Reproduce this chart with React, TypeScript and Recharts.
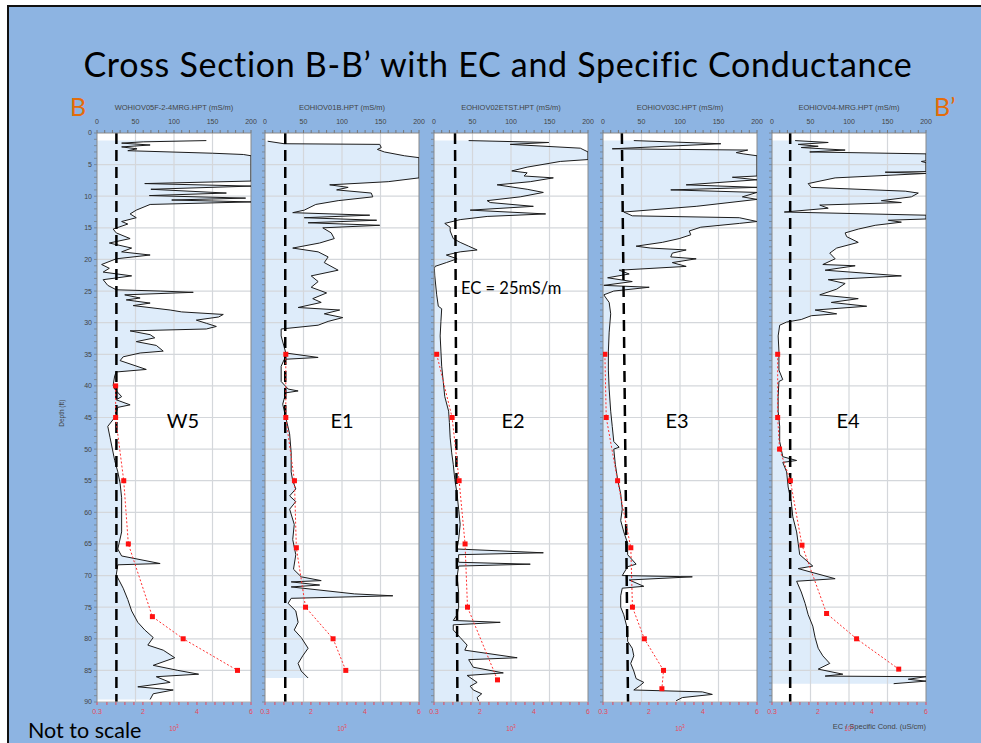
import React from 'react';
import { ComposedChart, Area, Line, XAxis, YAxis, ReferenceLine } from 'recharts';

// EC logs: [depth ft, EC mS/m] (values past 200 are pinned at the axis end)
const W5_EC = [
  [1.2, 142], [1.4, 60], [1.6, 32], [1.9, 69], [2.2, 32], [2.5, 52], [2.8, 40], [3.2, 150], [3.4, 190], [3.6, 200],
  [7.6, 200], [8.0, 62], [8.4, 200], [8.9, 70], [9.5, 168], [9.9, 68], [10.3, 193], [10.6, 97], [10.9, 200], [11.3, 69],
  [12.2, 51], [12.8, 43], [13.4, 51], [14.0, 32], [14.4, 40], [15.2, 21], [15.8, 25], [16.7, 43], [17.4, 16], [18.2, 45],
  [18.8, 32], [19.3, 69], [19.9, 25], [20.8, 6], [21.4, 16], [22.0, 8], [22.6, 45], [23.2, 8], [24.1, 14], [24.8, 25],
  [25.0, 82], [25.2, 125], [25.6, 36], [26.1, 56], [26.4, 38], [26.9, 69], [27.3, 47], [28.0, 95], [28.3, 110], [28.7, 164],
  [29.1, 158], [29.6, 129], [30.1, 142], [30.6, 155], [31.0, 142], [31.3, 43], [31.9, 69], [32.4, 75], [33.0, 51], [33.6, 77],
  [34.5, 86], [34.8, 56], [35.4, 34], [36.0, 30], [37.4, 64], [37.8, 25], [38.4, 23], [39.9, 21], [40.5, 23], [41.7, 32],
  [42.2, 25], [43.0, 43], [43.4, 27], [45.0, 23], [46.4, 14], [48.2, 17], [50.0, 20], [51.8, 23], [53.6, 27], [55.4, 30],
  [57.7, 32], [60.1, 32], [63.1, 32], [65.8, 27], [66.9, 32], [68.1, 82], [68.3, 27], [69.9, 25], [72.0, 34], [73.8, 40],
  [75.6, 45], [77.4, 53], [78.6, 62], [79.8, 73], [81.0, 66], [81.8, 86], [83.0, 101], [84.2, 73], [85.0, 105], [85.6, 132],
  [86.0, 77], [86.9, 95], [87.6, 53], [88.1, 99], [88.7, 73], [89.6, 69],
];
const E1_EC = [
  [1.3, 3.5], [1.7, 25], [1.8, 149], [2.3, 151], [2.6, 146], [3.0, 155], [3.6, 181], [3.9, 200], [7.1, 200], [7.7, 160],
  [8.2, 84], [8.6, 108], [9.0, 93], [9.5, 138], [10.1, 140], [10.7, 95], [11.3, 66], [12.2, 51], [12.6, 36], [13.0, 136],
  [13.4, 51], [13.8, 145], [14.2, 56], [14.6, 149], [15.0, 75], [15.8, 86], [16.7, 90], [17.4, 71], [18.2, 36], [18.8, 69],
  [19.6, 82], [20.5, 77], [21.7, 95], [22.6, 60], [23.5, 69], [24.4, 60], [25.3, 80], [26.2, 62], [26.8, 73], [27.6, 43],
  [28.0, 97], [28.6, 77], [29.2, 101], [29.8, 82], [30.4, 69], [31.0, 21], [32.1, 21], [33.9, 25], [34.8, 27], [35.5, 69],
  [35.8, 25], [36.9, 21], [39.3, 21], [40.5, 30], [40.8, 43], [41.1, 27], [42.9, 23], [45.0, 27], [47.6, 32], [50.6, 34],
  [53.6, 34], [55.0, 36], [56.3, 40], [57.4, 32], [58.3, 40], [59.5, 32], [61.9, 38], [64.3, 36], [66.7, 40], [69.0, 37],
  [70.2, 47], [70.8, 73], [71.0, 34], [71.5, 71], [71.8, 34], [72.9, 116], [73.2, 166], [73.6, 34], [74.4, 30], [75.6, 40],
  [77.4, 43], [78.6, 38], [79.8, 47], [81.5, 56], [82.7, 49], [83.9, 43], [85.1, 47], [86.2, 56],
];
const E2_EC = [
  [1.2, 45], [1.5, 149], [1.8, 99], [2.4, 190], [3.0, 200], [4.2, 200], [4.5, 164], [5.4, 121], [6.0, 101], [6.3, 121],
  [6.8, 117], [7.1, 155], [7.7, 125], [8.2, 82], [8.9, 121], [9.4, 142], [10.1, 112], [10.7, 69], [11.0, 73], [11.6, 129],
  [12.2, 47], [12.8, 145], [13.2, 69], [13.7, 34], [14.3, 14], [14.9, 21], [15.5, 21], [16.7, 25], [17.3, 34], [17.9, 45],
  [18.5, 56], [18.8, 34], [19.3, 16], [19.9, 30], [20.5, 16], [21.1, 1.3], [21.4, 0.5], [22.6, 1], [25.6, 3.5], [27.4, 5.6],
  [27.8, 10], [29.8, 9], [32.1, 8], [34.5, 9], [36.9, 10], [39.3, 12], [41.7, 14], [44.0, 19], [45.8, 20], [48.2, 21],
  [50.6, 23], [52.4, 25], [54.8, 27], [57.1, 30], [59.5, 32], [61.9, 34], [64.3, 32], [65.8, 30], [66.4, 142], [66.7, 32],
  [67.9, 32], [68.2, 125], [68.5, 32], [70.2, 30], [72.6, 32], [75.0, 32], [76.2, 30], [77.1, 25], [77.4, 86], [77.8, 25],
  [78.6, 25], [79.8, 34], [81.0, 43], [81.8, 40], [83.0, 108], [83.3, 45], [84.5, 51], [85.4, 90], [85.8, 43], [86.9, 56],
  [87.5, 47], [88.1, 51], [88.7, 62], [89.3, 56], [89.9, 58],
];
const E3_EC = [
  [1.2, 40], [1.7, 153], [2.5, 12], [2.7, 188], [3.1, 173], [3.3, 182], [3.6, 200], [6.8, 200], [7.0, 168], [7.4, 200],
  [8.2, 108], [8.6, 200], [9.0, 88], [9.4, 200], [10.1, 181], [10.5, 200], [11.6, 121], [12.5, 27], [13.1, 38], [13.4, 177],
  [14.0, 200], [14.3, 177], [14.9, 127], [15.5, 112], [16.1, 114], [16.7, 99], [17.3, 77], [17.9, 43], [18.2, 62], [18.5, 108],
  [19.0, 90], [19.6, 88], [19.9, 121], [20.5, 90], [21.1, 108], [21.7, 21], [22.3, 34], [22.9, 6], [23.5, 38], [24.1, 1],
  [24.4, 60], [25.0, 14], [25.6, 1], [26.8, 8], [28.6, 10], [31.5, 8], [34.5, 7], [37.5, 7], [40.5, 8], [44.0, 10],
  [46.4, 12], [48.8, 14], [49.7, 21], [50.0, 14], [52.4, 16], [54.8, 19], [57.1, 23], [59.5, 25], [61.3, 23], [63.1, 27],
  [64.9, 32], [66.7, 32], [68.2, 43], [68.6, 32], [70.0, 25], [70.2, 116], [70.7, 34], [71.7, 53], [72.0, 25], [73.2, 23],
  [75.0, 23], [76.2, 27], [78.6, 32], [80.4, 32], [81.5, 38], [82.7, 40], [83.9, 36], [85.1, 40], [86.3, 43], [86.9, 53],
  [87.5, 47], [88.1, 40], [88.4, 129], [88.8, 142], [89.3, 103], [89.8, 95],
];
const E4_EC = [
  [1.2, 30], [1.5, 73], [1.8, 34], [2.1, 60], [2.3, 38], [2.7, 95], [3.0, 49], [3.3, 200], [4.4, 200], [4.5, 194],
  [4.7, 200], [6.1, 200], [6.2, 147], [6.4, 200], [7.1, 82], [8.0, 47], [8.6, 51], [9.2, 173], [9.5, 190], [10.1, 181],
  [10.7, 142], [11.0, 168], [11.4, 62], [11.9, 73], [12.5, 16], [13.0, 200], [13.6, 200], [13.8, 151], [14.1, 168], [14.6, 134],
  [15.2, 112], [15.8, 95], [16.4, 97], [17.3, 112], [18.2, 84], [19.0, 75], [19.9, 82], [20.8, 66], [21.0, 108], [21.7, 69],
  [22.6, 168], [23.2, 73], [23.8, 95], [24.7, 84], [25.6, 62], [26.2, 112], [26.8, 77], [27.4, 123], [28.0, 56], [28.6, 84],
  [28.9, 51], [29.5, 38], [29.9, 19], [30.4, 10], [32.1, 8], [34.5, 9], [37.5, 9], [39.0, 14], [39.3, 9], [41.7, 8],
  [44.0, 8], [46.4, 10], [48.8, 10], [51.2, 14], [51.8, 32], [52.1, 14], [53.6, 19], [56.0, 21], [58.3, 25], [60.7, 27],
  [63.1, 32], [64.9, 34], [66.7, 36], [68.5, 53], [68.9, 34], [70.5, 82], [70.9, 32], [72.6, 38], [74.4, 43], [76.2, 47],
  [78.0, 53], [79.8, 56], [81.5, 60], [82.7, 66], [83.9, 75], [84.8, 60], [85.6, 92], [85.9, 69], [86.0, 200], [86.4, 177],
  [86.7, 200], [87.1, 158],
];

// specific conductance samples: [depth ft, 10^3 uS/cm]
const W5_SC = [[40, 0.99], [45, 0.99], [55, 1.29], [65, 1.46], [76.5, 2.35], [80, 3.49], [85, 5.5]];
const E1_SC = [[35, 1.07], [45, 1.07], [55, 1.39], [65.6, 1.46], [75, 1.8], [80, 2.82], [85, 3.29]];
const E2_SC = [[35, 0.4], [45, 0.97], [55, 1.23], [65, 1.45], [75, 1.54], [86.5, 2.65]];
const E3_SC = [[35, 0.37], [45, 0.42], [55, 0.84], [65.6, 1.33], [75, 1.39], [80, 1.83], [85, 2.54], [87.9, 2.48]];
const E4_SC = [[35, 0.51], [45, 0.51], [50, 0.58], [55, 0.98], [65.2, 1.41], [76, 2.32], [80, 3.43], [84.8, 4.99]];

const WELLS = ['W5', 'E1', 'E2', 'E3', 'E4'];
const HEADERS = [
  'WOHIOV05F-2-4MRG.HPT (mS/m)',
  'EOHIOV01B.HPT (mS/m)',
  'EOHIOV02ETST.HPT (mS/m)',
  'EOHIOV03C.HPT (mS/m)',
  'EOHIOV04-MRG.HPT (mS/m)',
];
// hand drawn 25 mS/m line, EC at top and bottom of each log
const CUTOFF = [[25.2, 25.2], [26.3, 26.3], [27.3, 30.4], [24.5, 32.5], [23.6, 23.6]];
const WELL_LABEL_X = [183, 342, 513, 677, 848];

const EC_TICKS = [0, 10, 20, 30, 40, 50, 60, 70, 80, 90, 100, 110, 120, 130, 140, 150, 160, 170, 180, 190, 200];
const EC_LABELS = [0, 50, 100, 150, 200];
const EC_GRID = [50, 100, 150];
const DEPTH_TICKS = Array.from({ length: 91 }, (_, i) => i);
const DEPTH_GRID = [5, 10, 15, 20, 25, 30, 35, 40, 45, 50, 55, 60, 65, 70, 75, 80, 85];
const SC_TICKS = [0.3, 0.667, 1, 1.333, 1.667, 2, 2.333, 2.667, 3, 3.333, 3.667, 4, 4.333, 4.667, 5, 5.333, 5.667, 6];
const SC_LABELS = [0.3, 2, 4, 6];

const EC_DATA = [W5_EC, E1_EC, E2_EC, E3_EC, E4_EC].map((a) => a.map(([depth, ec]) => ({ depth, ec })));
const SC_DATA = [W5_SC, E1_SC, E2_SC, E3_SC, E4_SC].map((a) => a.map(([depth, sc]) => ({ depth, sc })));

const PLOT_LEFT = [97, 265, 434, 603, 772];
const PLOT_TOP = 133;
const PLOT_W = 154;
const PLOT_H = 569;
const TOP_H = 30;
const BOT_H = 28;
const RIGHT_PAD = 8;

const SANS = '"Liberation Sans", Arial, sans-serif';
const CAL = 'Lato, "Open Sans", sans-serif';
const RED = '#e8485a';

const Txt = ({ x, y, size, color = '#000', anchor = 'left', family = CAL, children, style }: any) => (
  <div
    style={{
      position: 'absolute',
      top: y - size / 2,
      left: anchor === 'left' ? x : undefined,
      right: anchor === 'right' ? 981 - x : undefined,
      ...(anchor === 'center' ? { left: x, transform: 'translateX(-50%)' } : {}),
      fontSize: size,
      lineHeight: `${size}px`,
      fontFamily: family,
      color,
      whiteSpace: 'nowrap',
      ...style,
    }}
  >
    {children}
  </div>
);

const Square = (p: any) =>
  p.cx == null ? null : <rect key={`sq-${p.index}`} x={p.cx - 2.5} y={p.cy - 2.5} width={5} height={5} fill="#ff1010" />;

function Panel({ i }: { i: number }) {
  const yw = i === 0 ? 30 : 14;
  const left = PLOT_LEFT[i] - yw;
  return (
    <>
      <div style={{ position: 'absolute', left: PLOT_LEFT[i], top: PLOT_TOP, width: PLOT_W, height: PLOT_H, background: '#fff' }} />
      <div style={{ position: 'absolute', left, top: PLOT_TOP - TOP_H }}>
        <ComposedChart
          width={yw + PLOT_W + RIGHT_PAD}
          height={TOP_H + PLOT_H + BOT_H}
          data={EC_DATA[i]}
          layout="vertical"
          margin={{ top: 0, right: RIGHT_PAD, bottom: 0, left: 0 }}
        >
          <XAxis
            xAxisId="ec"
            type="number"
            orientation="top"
            domain={[0, 200]}
            allowDataOverflow
            ticks={EC_TICKS}
            interval={0}
            height={TOP_H}
            tickSize={3}
            tickMargin={6}
            axisLine={{ stroke: '#8a8a8a' }}
            tickLine={{ stroke: '#777' }}
            tick={{ fontSize: 7, fill: '#444', fontFamily: SANS }}
            tickFormatter={(v: number) => (EC_LABELS.includes(v) ? String(v) : '')}
          />
          <XAxis
            xAxisId="sc"
            type="number"
            orientation="bottom"
            domain={[0.3, 6]}
            allowDataOverflow
            ticks={SC_TICKS}
            interval={0}
            height={BOT_H}
            tickSize={3}
            tickMargin={4}
            axisLine={{ stroke: '#b0b0b0' }}
            tickLine={{ stroke: RED }}
            tick={{ fontSize: 7, fill: RED, fontFamily: SANS }}
            tickFormatter={(v: number) => (SC_LABELS.includes(v) ? String(v) : '')}
          />
          <YAxis
            type="number"
            dataKey="depth"
            domain={[0, 90]}
            allowDataOverflow
            ticks={DEPTH_TICKS}
            interval={0}
            width={yw}
            tickSize={3}
            tickMargin={2}
            axisLine={{ stroke: '#8a8a8a' }}
            tickLine={{ stroke: '#7a8a9a' }}
            tick={{ fontSize: 7, fill: '#444', fontFamily: SANS }}
            tickFormatter={(v: number) => (i === 0 && v % 5 === 0 ? String(v) : '')}
          />
          <Area
            xAxisId="ec"
            dataKey="ec"
            type="linear"
            stroke="none"
            fill="#deecfa"
            fillOpacity={1}
            isAnimationActive={false}
          />
          {DEPTH_GRID.map((d) => (
            <ReferenceLine key={`h${d}`} xAxisId="ec" y={d} stroke="#d4d7db" strokeWidth={1.2} />
          ))}
          {EC_GRID.map((v) => (
            <ReferenceLine key={`v${v}`} xAxisId="ec" x={v} stroke="#d4d7db" strokeWidth={1.2} />
          ))}
          <ReferenceLine xAxisId="ec" x={200} stroke="#8a8a8a" />
          <Line
            xAxisId="ec"
            dataKey="ec"
            type="linear"
            stroke="#1c1c1c"
            strokeWidth={1}
            dot={false}
            isAnimationActive={false}
          />
          <ReferenceLine
            xAxisId="ec"
            segment={[
              { x: CUTOFF[i][0], y: 0 },
              { x: CUTOFF[i][1], y: 90 },
            ]}
            stroke="#000"
            strokeWidth={2.5}
            strokeDasharray="11 6"
          />
          <Line
            xAxisId="sc"
            data={SC_DATA[i]}
            dataKey="sc"
            type="linear"
            stroke="#ff3030"
            strokeWidth={1}
            strokeDasharray="2 2"
            dot={Square}
            isAnimationActive={false}
          />
        </ComposedChart>
      </div>
      <Txt x={PLOT_LEFT[i] + PLOT_W / 2} y={108} size={7.5} anchor="center" family={SANS} color="#444">
        {HEADERS[i]}
      </Txt>
      <Txt x={PLOT_LEFT[i] + PLOT_W / 2} y={727} size={6.5} anchor="center" family={SANS} color={RED}>
        10<sup style={{ fontSize: 4.5 }}>3</sup>
      </Txt>
      <Txt x={WELL_LABEL_X[i]} y={420} size={20} anchor="center">
        {WELLS[i]}
      </Txt>
    </>
  );
}

export default function App() {
  return (
    <div style={{ position: 'absolute', left: 0, top: 0, width: 981, height: 743, background: '#fff', overflow: 'hidden' }}>
      <div
        style={{
          position: 'absolute',
          left: 7,
          top: 5,
          width: 990,
          height: 750,
          background: '#8db4e2',
          borderTop: '2px solid #111',
          borderLeft: '2px solid #111',
          boxSizing: 'border-box',
        }}
      />
      <Txt x={498} y={64} size={34} anchor="center" style={{ transform: 'translateX(-50%)', letterSpacing: 0.7 }}>
        Cross Section B-B’ with EC and Specific Conductance
      </Txt>
      <Txt x={70} y={106} size={25} color="#e46c0a">
        B
      </Txt>
      <Txt x={934} y={106} size={25} color="#e46c0a">
        B’
      </Txt>
      {WELLS.map((w, i) => (
        <Panel key={w} i={i} />
      ))}
      <Txt x={461} y={288} size={16.5}>
        EC = 25mS/m
      </Txt>
      <Txt x={926} y={727} size={7.5} anchor="right" family={SANS} color="#444">
        EC / Specific Cond. (uS/cm)
      </Txt>
      <Txt x={62} y={413} size={6.5} anchor="center" family={SANS} color="#444" style={{ transform: 'translateX(-50%) rotate(-90deg)' }}>
        Depth (ft)
      </Txt>
      <Txt x={28} y={731} size={21.5}>
        Not to scale
      </Txt>
    </div>
  );
}
